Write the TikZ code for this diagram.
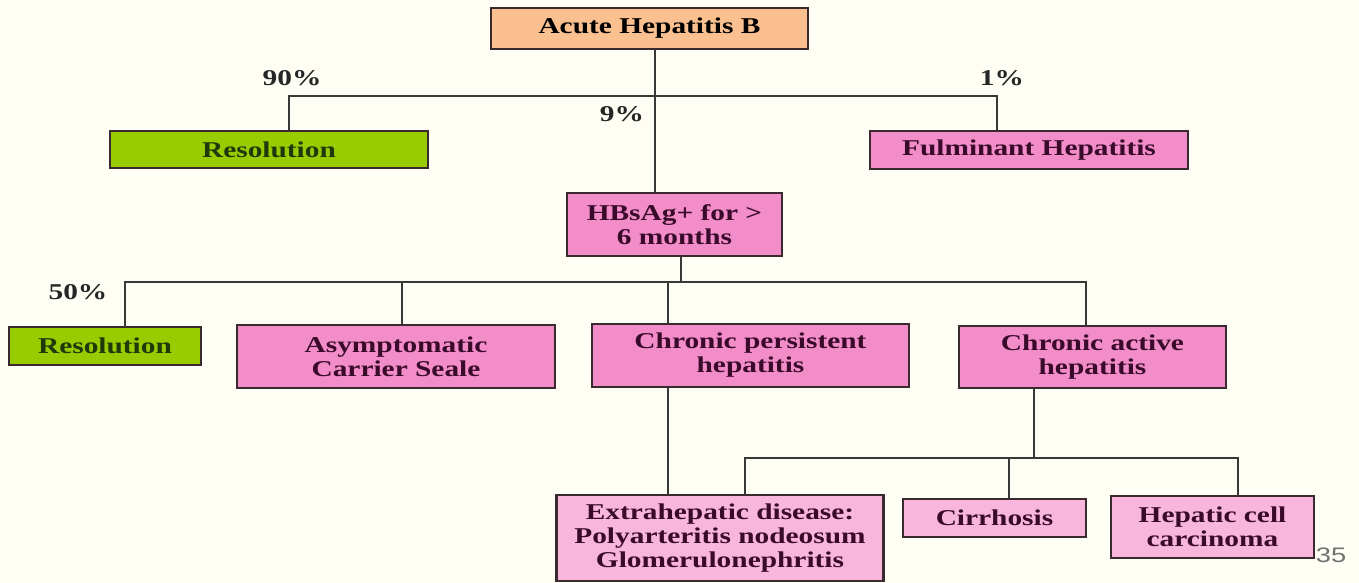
\documentclass[tikz,border=0pt]{standalone}
\usepackage{fontspec}
\setmainfont[FakeStretch=1.3]{Liberation Serif}
\newfontfamily\numfont[FakeStretch=1.3]{Liberation Sans}
\definecolor{bgcream}{HTML}{FFFEF4}
\definecolor{peach}{HTML}{FAC090}
\definecolor{resgreen}{HTML}{99CC00}
\definecolor{restext}{HTML}{1E3A0A}
\definecolor{heppink}{HTML}{F28DC9}
\definecolor{latepink}{HTML}{F8B6DC}
\definecolor{boxtext}{HTML}{3A0A2A}
\definecolor{boxline}{HTML}{3A2A30}
\definecolor{linkgray}{HTML}{383838}
\definecolor{numgray}{HTML}{707070}
\begin{document}
\begin{tikzpicture}[x=0.5pt,y=-0.5pt,
    main/.style={draw=boxline, line width=1.2pt, rectangle, inner sep=0pt, align=center, text=boxtext, font=\fontsize{11.3}{12}\selectfont\bfseries},
    acute/.style={main, fill=peach, text=black},
    res/.style={main, fill=resgreen, text=restext},
    hep/.style={main, fill=heppink},
    late/.style={main, fill=latepink},
    pct/.style={inner sep=0pt, text=black!85, font=\fontsize{11.3}{12}\selectfont\bfseries},
    link/.style={draw=linkgray, line width=1.4pt}]
    \fill[bgcream] (0,0) rectangle (1359,583);

    \node[acute] (1) [minimum width=158.5pt, minimum height=20.5pt] at (649.5,28.5) {Acute Hepatitis B};
    \node[res] (2) [minimum width=159pt, minimum height=18.5pt] at (269,149.5) {Resolution};
    \node[hep] (3) [minimum width=159pt, minimum height=19pt] at (1029,150) {Fulminant Hepatitis};
    \node[hep] (4) [minimum width=107.5pt, minimum height=31.5pt] at (674.5,224.5) {HBsAg+ for >\\6 months};

    \node[res] (5) [minimum width=96pt, minimum height=19pt] at (105,346) {Resolution};
    \node[hep] (6) [minimum width=159pt, minimum height=31.5pt] at (396,356.5) {Asymptomatic\\Carrier Seale};
    \node[hep] (7) [minimum width=158.5pt, minimum height=31.5pt] at (750.5,355.5) {Chronic persistent\\hepatitis};
    \node[hep] (8) [minimum width=133.5pt, minimum height=31pt] at (1092.5,357) {Chronic active\\hepatitis};

    \node[late] (9) [minimum width=163.5pt, minimum height=43pt] at (720,538) {Extrahepatic disease:\\Polyarteritis nodeosum\\Glomerulonephritis};
    \node[late] (10) [minimum width=91.5pt, minimum height=19pt] at (994.5,518) {Cirrhosis};
    \node[late] (11) [minimum width=101.5pt, minimum height=31pt] at (1212.5,527) {Hepatic cell\\carcinoma};

    \node[pct] (p90) at (292,78) {90\%};
    \node[pct] (p9) at (622,114) {9\%};
    \node[pct] (p1) at (1002,78) {1\%};
    \node[pct] (p50) at (78,292) {50\%};
    \node[inner sep=0pt, text=numgray, font=\numfont\fontsize{10.5}{12}\selectfont] (num) at (1331,555) {35};

    % first split
    \coordinate (b1) at (655,96);
    \coordinate (d2) at (289,96);
    \coordinate (d3) at (997,96);
    \draw[link] (1.south -| b1) -- (4.north -| b1);
    \draw[link] (2.north -| d2) -- (d2) -- (d3) -- (3.north -| d3);

    % second split
    \coordinate (b2) at (681,282);
    \coordinate (d5) at (125,282);
    \coordinate (d6) at (402,282);
    \coordinate (d7) at (668,282);
    \coordinate (d8) at (1086,282);
    \draw[link] (4.south -| b2) -- (b2);
    \draw[link] (5.north -| d5) -- (d5) -- (d8) -- (8.north -| d8);
    \draw[link] (d6) -- (6.north -| d6);
    \draw[link] (d7) -- (7.north -| d7);
    \draw[link] (7.south -| d7) -- (9.north -| d7);

    % third split
    \coordinate (b3) at (1034,458);
    \coordinate (d9) at (745,458);
    \coordinate (d10) at (1009,458);
    \coordinate (d11) at (1238,458);
    \draw[link] (8.south -| b3) -- (b3);
    \draw[link] (9.north -| d9) -- (d9) -- (d11) -- (11.north -| d11);
    \draw[link] (d10) -- (10.north -| d10);
\end{tikzpicture}
\end{document}
